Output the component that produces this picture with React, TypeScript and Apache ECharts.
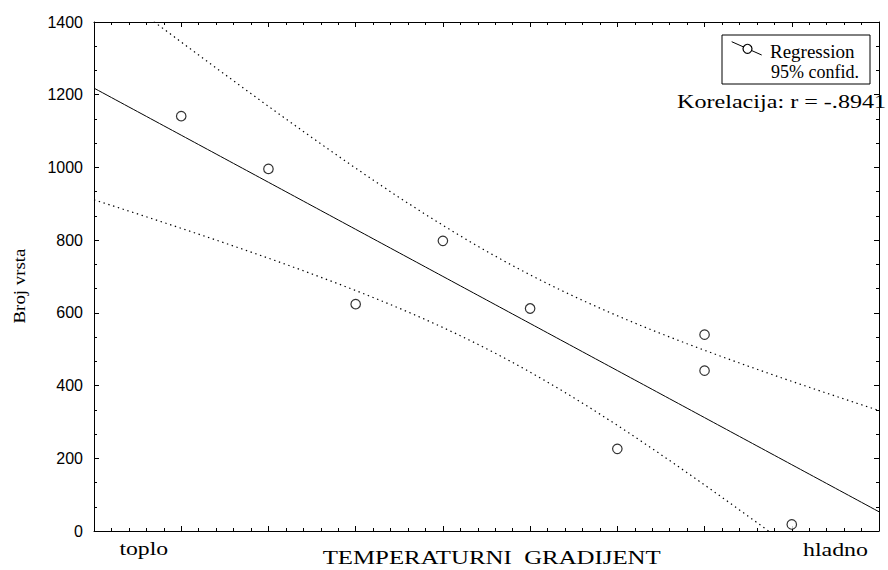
import React, { useEffect, useRef } from "react";
import * as echarts from "echarts";

const xValues = [1, 2, 3, 4, 5, 6, 7, 7, 8];
const yValues = [1141, 996, 624, 798, 612, 226, 540, 441, 18];
const yTicks = [0, 200, 400, 600, 800, 1000, 1200, 1400];
const xLabelLeft = "toplo";
const xLabelRight = "hladno";
const xName = "TEMPERATURNI  GRADIJENT";
const yName = "Broj vrsta";
const legendItems = ["Regression", "95% confid."];
const corrLabel = "Korelacija: r = -.8941";
const tCrit = 2.364624; // t(0.975, df = 7)
const xMin = 0;
const xMax = 9;

function regression() {
  const n = xValues.length;
  const mx = xValues.reduce((a, b) => a + b, 0) / n;
  const my = yValues.reduce((a, b) => a + b, 0) / n;
  let sxx = 0, sxy = 0, syy = 0;
  for (let i = 0; i < n; i++) {
    sxx += (xValues[i] - mx) ** 2;
    sxy += (xValues[i] - mx) * (yValues[i] - my);
    syy += (yValues[i] - my) ** 2;
  }
  const b = sxy / sxx;
  const a = my - b * mx;
  const sse = syy - (sxy * sxy) / sxx;
  const s = Math.sqrt(sse / (n - 2));
  return { n, mx, sxx, a, b, s };
}

export default function App() {
  const ref = useRef<HTMLDivElement>(null);
  useEffect(() => {
    if (!ref.current) return;
    const chart = echarts.init(ref.current, undefined, { renderer: "svg" });
    const { n, mx, sxx, a, b, s } = regression();
    const fitLine: number[][] = [];
    const upper: number[][] = [];
    const lower: number[][] = [];
    const steps = 180;
    for (let i = 0; i <= steps; i++) {
      const x = xMin + ((xMax - xMin) * i) / steps;
      const yh = a + b * x;
      const h = tCrit * s * Math.sqrt(1 / n + (x - mx) ** 2 / sxx);
      fitLine.push([x, yh]);
      upper.push([x, yh + h]);
      lower.push([x, yh - h]);
    }
    const serif = "'Liberation Serif', 'Times New Roman', serif";
    const sans = "'Liberation Sans', Arial, sans-serif";
    const axisCommon = {
      type: "value" as const,
      min: xMin,
      max: xMax,
      interval: 1,
      axisLine: { show: true, onZero: false, lineStyle: { color: "#000", width: 1 } },
      axisTick: { show: true, inside: true, length: 5, lineStyle: { color: "#000" } },
      minorTick: { show: true, splitNumber: 5, length: 3, lineStyle: { color: "#000" } },
      axisLabel: { show: false },
      splitLine: { show: false },
    };
    const yCommon = {
      type: "value" as const,
      min: yTicks[0],
      max: yTicks[yTicks.length - 1],
      interval: yTicks[1] - yTicks[0],
      axisLine: { show: true, onZero: false, lineStyle: { color: "#000", width: 1 } },
      axisTick: { show: true, inside: true, length: 5, lineStyle: { color: "#000" } },
      minorTick: { show: true, splitNumber: 3, length: 3, lineStyle: { color: "#000" } },
      splitLine: { show: false },
    };
    const dotted = { color: "#000", width: 1.2, type: [1.4, 3.6] };
    chart.setOption({
      animation: false,
      backgroundColor: "#fff",
      grid: { left: 94, right: 9, top: 22, bottom: 39, containLabel: false },
      xAxis: [
        { ...axisCommon, position: "bottom" },
        { ...axisCommon, position: "top" },
      ],
      yAxis: [
        {
          ...yCommon,
          position: "left",
          axisLabel: {
            show: true,
            color: "#000",
            fontFamily: sans,
            fontSize: 16,
            margin: 11,
            formatter: (v: number) => String(v),
          },
        },
        { ...yCommon, position: "right", axisLabel: { show: false } },
      ],
      series: [
        { type: "line", data: upper, showSymbol: false, symbol: "none", clip: true, lineStyle: dotted, z: 2 },
        { type: "line", data: lower, showSymbol: false, symbol: "none", clip: true, lineStyle: dotted, z: 2 },
        {
          type: "line",
          data: fitLine,
          showSymbol: false,
          symbol: "none",
          clip: true,
          lineStyle: { color: "#000", width: 1 },
          z: 3,
        },
        {
          type: "scatter",
          data: xValues.map((x, i) => [x, yValues[i]]),
          symbol: "circle",
          symbolSize: 9.5,
          itemStyle: { color: "#fff", borderColor: "#000", borderWidth: 1.2 },
          z: 4,
        },
      ],
      graphic: [
        {
          type: "text",
          x: 143.8,
          y: 549,
          scaleX: 1.32,
          style: { text: xLabelLeft, font: `18px ${serif}`, fill: "#000", align: "center", verticalAlign: "middle" },
        },
        {
          type: "text",
          x: 835.5,
          y: 550.5,
          scaleX: 1.33,
          style: { text: xLabelRight, font: `18px ${serif}`, fill: "#000", align: "center", verticalAlign: "middle" },
        },
        {
          type: "text",
          x: 491.7,
          y: 558,
          scaleX: 1.38,
          style: { text: xName, font: `18px ${serif}`, fill: "#000", align: "center", verticalAlign: "middle" },
        },
        {
          type: "text",
          x: 19.5,
          y: 286,
          rotation: Math.PI / 2,
          scaleX: 1.18,
          style: { text: yName, font: `16px ${serif}`, fill: "#000", align: "center", verticalAlign: "middle" },
        },
        {
          type: "rect",
          shape: { x: 722, y: 35, width: 148, height: 49 },
          style: { fill: "#fff", stroke: "#000", lineWidth: 1 },
          z: 10,
        },
        {
          type: "line",
          shape: { x1: 731.7, y1: 41.7, x2: 761.7, y2: 55 },
          style: { stroke: "#000", lineWidth: 1 },
          z: 11,
        },
        {
          type: "circle",
          shape: { cx: 747.5, cy: 48.8, r: 4.5 },
          style: { fill: "#fff", stroke: "#000", lineWidth: 1.2 },
          z: 12,
        },
        {
          type: "text",
          x: 770,
          y: 51.9,
          z: 12,
          style: { text: legendItems[0], font: `19px ${serif}`, fill: "#000", align: "left", verticalAlign: "middle" },
        },
        {
          type: "text",
          x: 771,
          y: 72.2,
          z: 12,
          style: { text: legendItems[1], font: `18px ${serif}`, fill: "#000", align: "left", verticalAlign: "middle" },
        },
        {
          type: "text",
          x: 677,
          y: 101.9,
          scaleX: 1.27,
          z: 12,
          style: { text: corrLabel, font: `19px ${serif}`, fill: "#000", align: "left", verticalAlign: "middle" },
        },
      ],
    });
    return () => chart.dispose();
  }, []);
  return (
    <div
      ref={ref}
      style={{ position: "absolute", left: 0, top: 0, width: 888, height: 570, background: "#fff" }}
    />
  );
}
